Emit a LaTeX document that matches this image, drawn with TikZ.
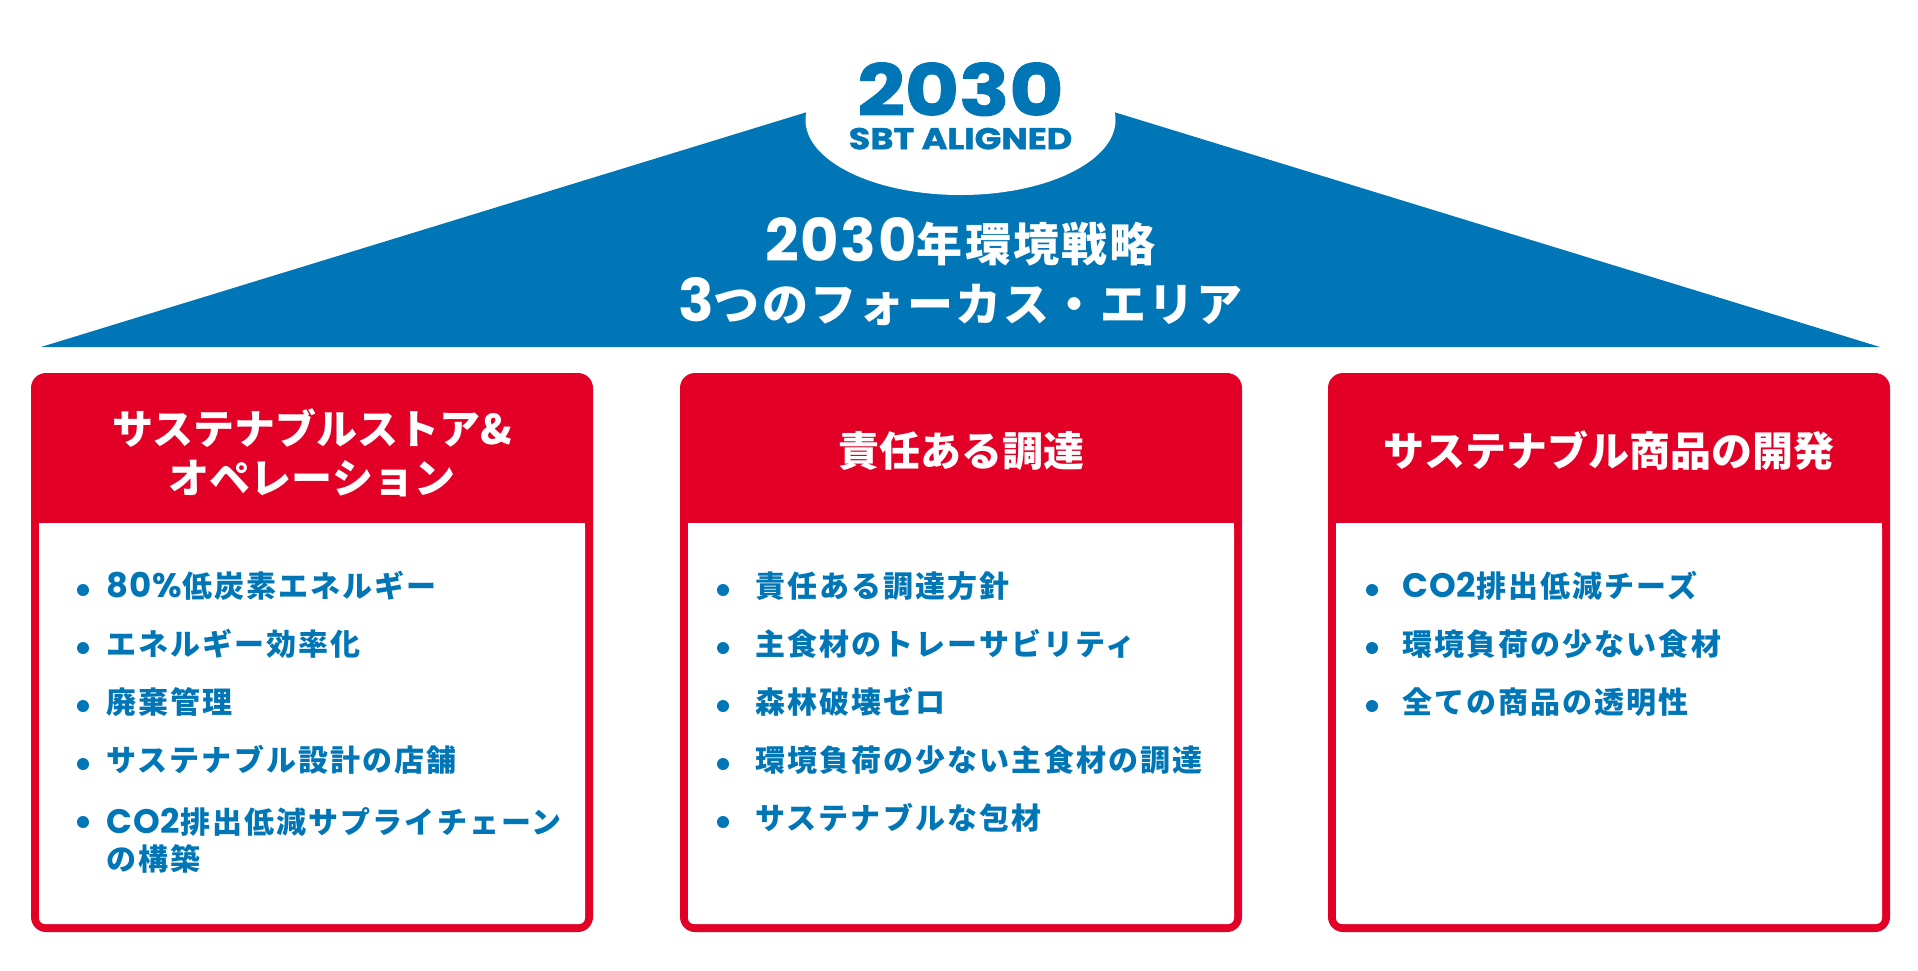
\documentclass[tikz,border=0pt]{standalone}
\usepackage{fontspec}
\newfontfamily\jpfont{Noto Sans CJK JP}
\newfontfamily\jptrack{Noto Sans CJK JP}[LetterSpace=7]
\newfontfamily\ttltrack{Noto Sans CJK JP}[LetterSpace=5]
\newfontfamily\latinfont{Poppins}[LetterSpace=3]
\newfontfamily\badgefont{Poppins}[FakeStretch=1.17, BoldFeatures={FakeBold=1.5}]
\definecolor{roofblue}{RGB}{0,118,182}
\definecolor{boxred}{RGB}{226,0,38}
\newcommand\ilat[1]{{\latinfont\fontsize{34}{37}\selectfont #1}}
\newcommand\tlat[1]{{\latinfont\fontsize{59}{60}\selectfont #1}}

\begin{document}
\begin{tikzpicture}[x=1pt, y=-1pt,
    header/.style={text=white, inner sep=0pt, align=center,
        font=\jpfont\bfseries\fontsize{41}{49}\selectfont},
    item/.style={text=roofblue, inner sep=0pt, anchor=west, align=left,
        font=\jptrack\bfseries\fontsize{30}{37}\selectfont},
    oneline/.style={text height=0.88em, text depth=0.12em},
    badge/.style={text=roofblue, inner sep=0pt, text depth=0pt}]
                \useasboundingbox (0,0) rectangle (1918,970);

                \fill[roofblue] (41,347) -- (960.5,65) -- (1880,347) -- cycle;
                \fill[white] (960.5,120) ellipse [x radius=155pt, y radius=75pt];

                \node[badge, font=\badgefont\bfseries\fontsize{71}{71}\selectfont] (yr) at (960.5,89) {2030};
                \node[badge, font=\badgefont\bfseries\fontsize{30}{30}\selectfont] (sbt) at (960.5,138.5) {SBT ALIGNED};
                \node[text=white, inner sep=0pt, align=center, font=\ttltrack\bfseries\fontsize{46}{60}\selectfont] (ttl) at (960.5,272) {\tlat{2030}年環境戦略\\\tlat{3}つのフォーカス・エリア};

                \foreach \bx in {31, 680, 1328} {
                    \fill[boxred, rounded corners=15pt] (\bx,373) rectangle ++(562,559);
                    \fill[white, rounded corners=6pt] (\bx+8,523) rectangle ++(546,401);
                    \fill[white] (\bx+8,523) rectangle ++(546,20);
                }

                \node[header] (hA) at (312,452.5) {サステナブルストア\&\\オペレーション};
                \node[header] (hB) at (961,451) {責任ある調達};
                \node[header] (hC) at (1609,451) {サステナブル商品の開発};

                \foreach \txt [count=\i] in {{\ilat{80\%}低炭素エネルギー}, エネルギー効率化, 廃棄管理, サステナブル設計の店舗} {
                    \fill[roofblue] (83, 532+58*\i) circle (6pt);
                    \node[item, oneline] (a\i) at (106, 536+58*\i) {\txt};
                }
                \fill[roofblue] (83, 822) circle (6pt);
                \node[item] (a5) at (106, 840) {\ilat{CO2}排出低減サプライチェーン\\の構築};

                \foreach \txt [count=\i] in {責任ある調達方針, 主食材のトレーサビリティ, 森林破壊ゼロ, 環境負荷の少ない主食材の調達, サステナブルな包材} {
                    \fill[roofblue] (723, 532+58*\i) circle (6pt);
                    \node[item, oneline] (b\i) at (755, 536+58*\i) {\txt};
                }

                \foreach \txt [count=\i] in {{\ilat{CO2}排出低減チーズ}, 環境負荷の少ない食材, 全ての商品の透明性} {
                    \fill[roofblue] (1372, 532+58*\i) circle (6pt);
                    \node[item, oneline] (c\i) at (1402, 536+58*\i) {\txt};
                }
            \end{tikzpicture}
\end{document}
